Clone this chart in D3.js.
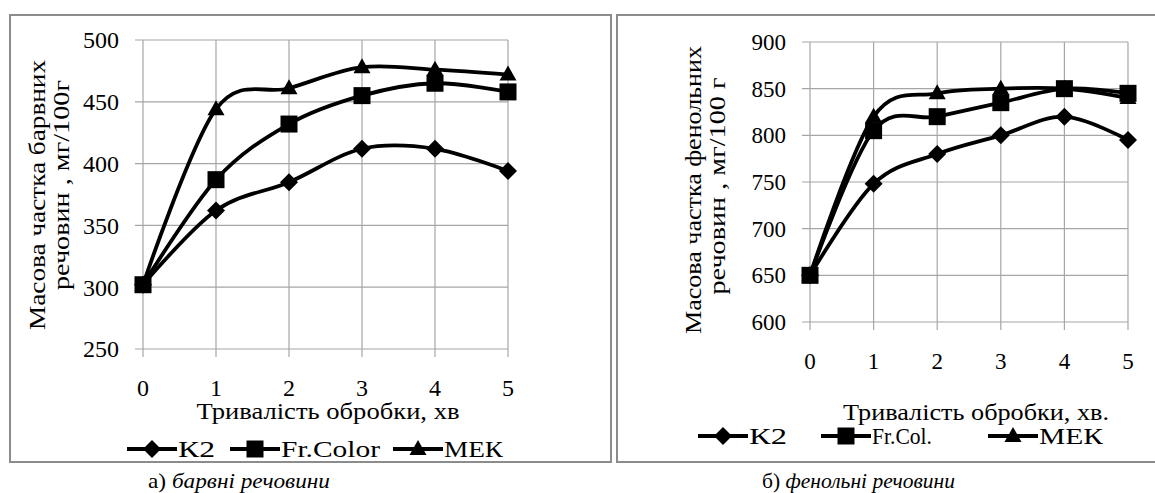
<!DOCTYPE html>
<html>
<head>
<meta charset="utf-8">
<script src="https://cdn.jsdelivr.net/npm/d3@7"></script>
<style>
  body { margin: 0; background: #fff; }
</style>
</head>
<body>
<div id="chart"></div>
<script>
// time of treatment, min
var minutes = [0, 1, 2, 3, 4, 5];
var seriesNamesA = ["К2", "Fr.Color", "МЕК"];
var seriesNamesB = ["К2", "Fr.Col.", "МЕК"];

// a) colouring substances, mg/100g
var dyeK2 = [302, 362, 385, 412, 412, 394];
var dyeFrColor = [302, 387, 432, 455, 465, 458];
var dyeMEK = [302, 444, 461, 478, 476, 472];
var dyeTicks = [250, 300, 350, 400, 450, 500];

// b) phenolic substances, mg/100g
var phenK2 = [650, 748, 780, 800, 820, 795];
var phenFrCol = [650, 805, 820, 835, 850, 845];
var phenMEK = [650, 820, 845, 850, 850, 840];
var phenTicks = [600, 650, 700, 750, 800, 850, 900];

var markers = ["diamond", "square", "triangle"];

var svg = d3.select("#chart").append("svg")
    .attr("width", 1155)
    .attr("height", 493);

function markerPath(type) {
  if (type == "diamond") return "M0,-9L9,0L0,9L-9,0Z";
  if (type == "square") return "M-8.5,-8.5H8.5V8.5H-8.5Z";
  return "M0,-9L8.5,6L-8.5,6Z";
}

function txt(sel, size) {
  return sel.attr("font-family", "'Liberation Serif', 'Times New Roman', serif")
    .attr("font-size", size)
    .attr("fill", "#000");
}

// stretch text to the width it has in the scanned figure
function fit(sel, len) {
  return sel.attr("textLength", len).attr("lengthAdjust", "spacingAndGlyphs");
}

function drawPanel(p) {
  // frame
  svg.append("rect")
    .attr("x", p.frame[0]).attr("y", p.frame[1])
    .attr("width", p.frame[2]).attr("height", p.frame[3])
    .attr("fill", "none").attr("stroke", "#8c8c8c").attr("stroke-width", 2);

  var x = d3.scaleLinear().domain([0, 5]).range([p.left, p.right]);
  var y = d3.scaleLinear().domain(d3.extent(p.ticks)).range([p.bottom, p.top]);

  var g = svg.append("g");

  // grid
  g.selectAll(".hg").data(p.ticks).enter().append("line")
    .attr("x1", p.left - 8).attr("x2", p.right)
    .attr("y1", function(d) { return y(d); }).attr("y2", function(d) { return y(d); })
    .attr("stroke", "#a6a6a6").attr("stroke-width", 1.2);
  g.selectAll(".vg").data(minutes).enter().append("line")
    .attr("x1", function(d) { return x(d); }).attr("x2", function(d) { return x(d); })
    .attr("y1", p.top).attr("y2", p.bottom + 8)
    .attr("stroke", "#a6a6a6").attr("stroke-width", 1.2);

  // tick labels
  txt(g.selectAll(".yl").data(p.ticks).enter().append("text"), p.tickFont)
    .attr("x", p.left - 24).attr("y", function(d) { return y(d); })
    .attr("dy", "0.35em").attr("text-anchor", "end")
    .text(function(d) { return d; });
  txt(g.selectAll(".xl").data(minutes).enter().append("text"), p.tickFont)
    .attr("x", function(d) { return x(d); }).attr("y", p.bottom + 39)
    .attr("dy", "0.35em").attr("text-anchor", "middle")
    .text(function(d) { return d; });

  // axis titles
  fit(txt(g.append("text"), 23), p.xTitleLen)
    .attr("x", p.xTitle[0]).attr("y", p.xTitle[1])
    .attr("dy", "0.35em").attr("text-anchor", "middle")
    .text(p.xTitleText);
  p.yTitleLines.forEach(function(t, i) {
    fit(txt(g.append("text"), 23), p.yTitleLen[i])
      .attr("transform", "translate(" + p.yTitleX[i] + "," + p.yTitleY[i] + ") rotate(-90)")
      .attr("text-anchor", "middle")
      .text(t);
  });

  // lines
  var line = d3.line()
    .x(function(d, i) { return x(minutes[i]); })
    .y(function(d) { return y(d); })
    .curve(d3.curveCardinal.tension(0));

  p.series.forEach(function(s, k) {
    g.append("path")
      .attr("d", line(s))
      .attr("fill", "none").attr("stroke", "#000").attr("stroke-width", 3.8);
    g.selectAll(".m" + k).data(s).enter().append("path")
      .attr("transform", function(d, i) { return "translate(" + x(minutes[i]) + "," + y(d) + ")"; })
      .attr("d", markerPath(markers[k]))
      .attr("fill", "#000");
  });

  // legend
  p.names.forEach(function(n, k) {
    var lx = p.legendX[k], ly = p.legendY;
    g.append("line")
      .attr("x1", lx).attr("x2", lx + 50).attr("y1", ly).attr("y2", ly)
      .attr("stroke", "#000").attr("stroke-width", 3.8);
    g.append("path")
      .attr("transform", "translate(" + (lx + 25) + "," + ly + ")")
      .attr("d", markerPath(markers[k])).attr("fill", "#000");
    fit(txt(g.append("text"), 24), p.legendLen[k])
      .attr("x", lx + 51).attr("y", ly).attr("dy", "0.35em")
      .text(n);
  });

  // caption
  var cap = fit(txt(g.append("text"), 21), p.captionLen)
    .attr("x", p.caption[0]).attr("y", p.caption[1]).attr("dy", "0.35em");
  cap.append("tspan").text(p.captionLetter + " ");
  cap.append("tspan").attr("font-style", "italic").text(p.captionText);
}

drawPanel({
  frame: [10, 15, 601, 447],
  left: 143, right: 508, top: 40, bottom: 349,
  ticks: dyeTicks, tickFont: 24,
  series: [dyeK2, dyeFrColor, dyeMEK],
  names: seriesNamesA,
  legendX: [127, 230, 393], legendY: 449, legendLen: [37, 99, 59],
  xTitle: [328, 411], xTitleText: "Тривалість обробки, хв", xTitleLen: 263,
  yTitleLines: ["Масова частка барвних", "речовин , мг/100г"],
  yTitleX: [45, 69], yTitleY: [195, 185], yTitleLen: [270, 210],
  caption: [148, 481], captionLetter: "а)", captionText: "барвні речовини", captionLen: 182
});

drawPanel({
  frame: [617, 15, 560, 447],
  left: 810, right: 1128, top: 42, bottom: 322,
  ticks: phenTicks, tickFont: 23,
  series: [phenK2, phenFrCol, phenMEK],
  names: seriesNamesB,
  legendX: [698, 821, 988], legendY: 436, legendLen: [38, 60, 64],
  xTitle: [976, 412], xTitleText: "Тривалість обробки, хв.", xTitleLen: 266,
  yTitleLines: ["Масова частка фенольних", "речовин , мг/100 г"],
  yTitleX: [701, 725], yTitleY: [190, 186], yTitleLen: [288, 217],
  caption: [762, 481], captionLetter: "б)", captionText: "фенольні речовини", captionLen: 193
});
</script>
</body>
</html>
